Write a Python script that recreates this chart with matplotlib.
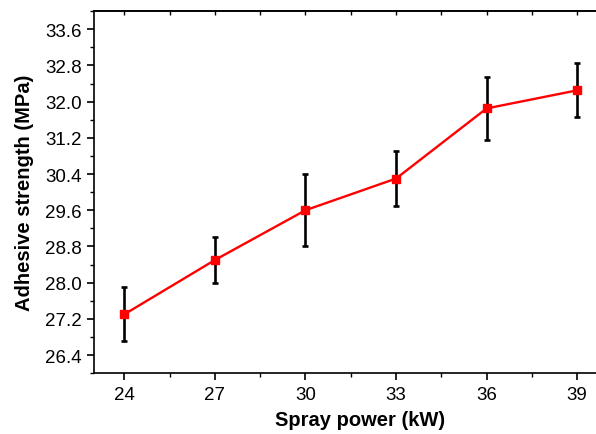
import matplotlib
matplotlib.use("Agg")
import matplotlib.pyplot as plt
from matplotlib.ticker import MultipleLocator

plt.rcParams.update({"font.family": ["Liberation Sans", "DejaVu Sans"], "font.size": 13})

power = [24, 27, 30, 33, 36, 39]
strength = [27.3, 28.5, 29.6, 30.3, 31.85, 32.25]
err = [0.6, 0.5, 0.8, 0.6, 0.7, 0.6]

fig = plt.figure(figsize=(5.96, 4.35), dpi=100)
ax = fig.add_axes([0.158, 0.140, 0.861, 0.832])

ax.errorbar(power, strength, yerr=err, fmt="none", ecolor="black",
            elinewidth=1.9, capsize=2.5, capthick=1.9, zorder=2)
ax.plot(power, strength, "-s", color="red", lw=1.7, ms=6, zorder=3)

ax.set_xlim(23, 40)
ax.set_ylim(26.0, 34.0)
ax.xaxis.set_major_locator(MultipleLocator(3))
ax.xaxis.set_minor_locator(MultipleLocator(1.5))
ax.yaxis.set_major_locator(MultipleLocator(0.8))
ax.yaxis.set_minor_locator(MultipleLocator(0.4))
ax.yaxis.set_major_formatter(matplotlib.ticker.FormatStrFormatter("%.1f"))
ax.tick_params(which="major", direction="out", length=5, width=1.2, labelsize=13.5, pad=4)
ax.tick_params(which="minor", direction="out", length=3, width=1.0)
ax.spines["right"].set_visible(False)
for s in ["left", "bottom", "top"]:
    ax.spines[s].set_linewidth(1.2)

top = ax.secondary_xaxis("top")
top.xaxis.set_major_locator(MultipleLocator(1.5))
top.tick_params(direction="in", length=3, width=1.0, labeltop=False)
top.spines["top"].set_linewidth(1.2)

ax.set_xlabel("Spray power (kW)", fontsize=14.5, fontweight="bold", labelpad=5)
ax.xaxis.label.set_x(0.5175)
ax.set_ylabel("Adhesive strength (MPa)", fontsize=14.5, fontweight="bold", labelpad=8)

fig.savefig("out.png")
